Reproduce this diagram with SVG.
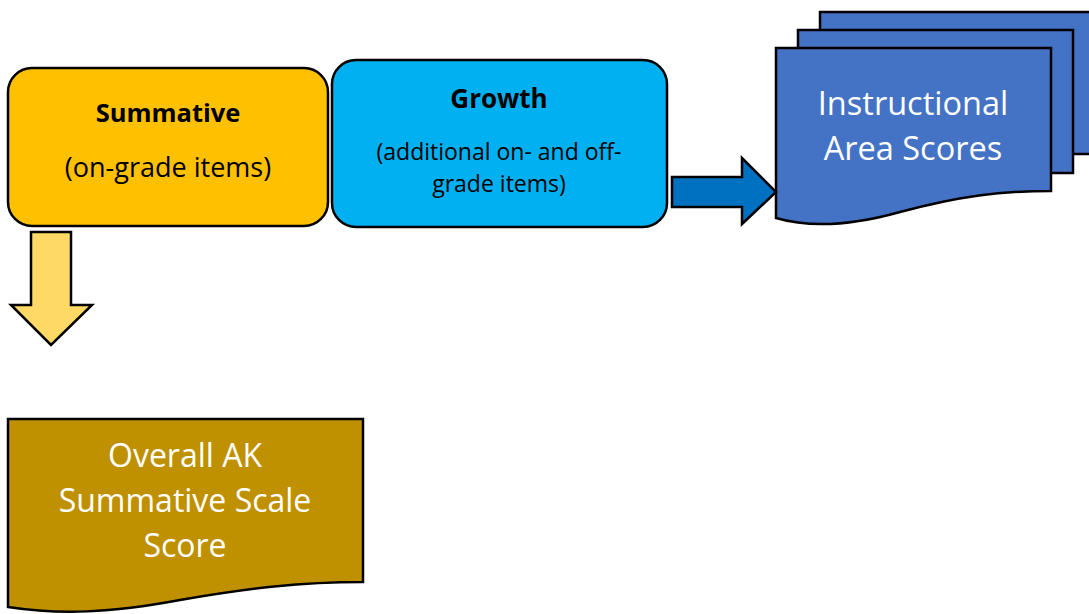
<svg xmlns="http://www.w3.org/2000/svg" width="1089" height="614" viewBox="0 0 1089 614">
<style>
.sh{stroke:#000;stroke-width:2.5;stroke-linejoin:miter}
.t{font-family:"Open Sans","Liberation Sans",Arial,sans-serif;text-anchor:middle}
.b{font-weight:bold;fill:#000}
.w{fill:#fff}
</style>
<rect width="1089" height="614" fill="#fff"/>
<g id="summative">
<rect class="sh" x="8" y="68" width="320" height="158" rx="24" fill="#FFC000"/>
<text class="t b" x="168" y="122" font-size="25.5">Summative</text>
<text class="t" x="168" y="177" font-size="27">(on-grade items)</text>
</g>
<g id="growth">
<rect class="sh" x="332" y="60" width="335" height="167" rx="24" fill="#00B0F0"/>
<text class="t b" x="499" y="108" font-size="26">Growth</text>
<text class="t" x="499" y="160" font-size="23">(additional on- and off-</text>
<text class="t" x="499" y="192" font-size="23">grade items)</text>
</g>
<g id="instructional">
<path class="sh" fill="#4472C4" d="M820,12 H1095 V154 H820 Z"/>
<path class="sh" fill="#4472C4" d="M798,30 H1073 V173 H798 Z"/>
<path class="sh" fill="#4472C4" d="M776,48 H1051 V191 C1000,191 960,196 900,212 C850,226 810,228 776,218 Z"/>
<text class="t w" x="913" y="115" font-size="32.5">Instructional</text>
<text class="t w" x="913" y="160" font-size="32.5">Area Scores</text>
</g>
<g id="overall">
<path class="sh" fill="#BF9000" d="M8,419 H363 V582 C300,582 250,588 180,600 C110,613 60,615 8,607 Z"/>
<text class="t w" x="185" y="467" font-size="32">Overall AK</text>
<text class="t w" x="185" y="512" font-size="32">Summative Scale</text>
<text class="t w" x="185" y="557" font-size="32">Score</text>
</g>
<g id="connectors">
<path class="sh" fill="#FFD966" d="M31,232 H71 V305 H92 L51,345 L11,305 H31 Z"/>
<path class="sh" fill="#0070C0" d="M672,177 H742 V158 L776,192 L742,224 V207 H672 Z"/>
</g>
</svg>
